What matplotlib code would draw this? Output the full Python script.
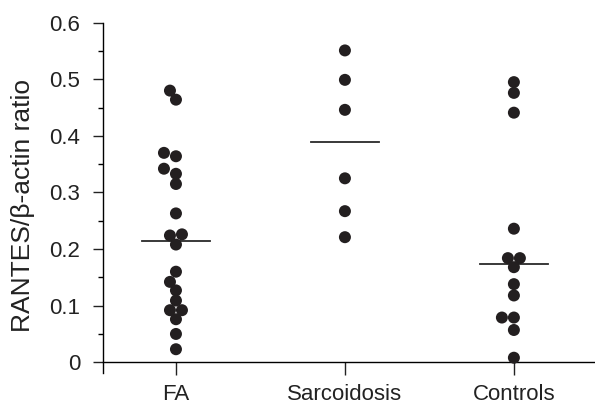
import matplotlib
matplotlib.use("Agg")
import matplotlib.pyplot as plt
import numpy as np
from matplotlib.ticker import MultipleLocator

plt.rcParams['font.family'] = ['Liberation Sans', 'DejaVu Sans']

categories = ["FA", "Sarcoidosis", "Controls"]
fa_values = [0.480, 0.464, 0.370, 0.364, 0.342, 0.333, 0.315, 0.263, 0.226, 0.224,
             0.208, 0.160, 0.142, 0.127, 0.109, 0.092, 0.092, 0.076, 0.050, 0.023]
sarc_values = [0.551, 0.499, 0.446, 0.325, 0.267, 0.221]
ctrl_values = [0.495, 0.476, 0.441, 0.236, 0.184, 0.184, 0.168, 0.138, 0.118,
               0.079, 0.079, 0.057, 0.008]
medians = [0.215, 0.390, 0.174]
series = [fa_values, sarc_values, ctrl_values]

W, H = 595, 405
fig = plt.figure(figsize=(W / 100, H / 100), dpi=100)
ax_left, ax_right, ax_top, ax_bot = 103.3, 595, 22.7, 373
ax = fig.add_axes([ax_left / W, 1 - ax_bot / H, (ax_right - ax_left) / W, (ax_bot - ax_top) / H])

xlim = (-0.43, 2.48)
ylim = (-0.019, 0.6)
ax.set_xlim(*xlim)
ax.set_ylim(*ylim)

px_per_x = (ax_right - ax_left) / (xlim[1] - xlim[0])
px_per_y = (ax_bot - ax_top) / (ylim[1] - ylim[0])

diam_px = 12.0
dot_color = "#231f20"

def swarm(vals):
    placed = []
    order = np.argsort(vals)
    res = [0.0] * len(vals)
    step = diam_px * 0.5
    for i in order:
        y = vals[i] * px_per_y
        cands = [0.0]
        for k in range(1, 8):
            cands += [-k * step, k * step]
        for c in cands:
            ok = True
            for (px, py) in placed:
                if (px - c) ** 2 + (py - y) ** 2 < (diam_px * 0.82) ** 2:
                    ok = False
                    break
            if ok:
                placed.append((c, y))
                res[i] = c / px_per_x
                break
    return res

for idx, vals in enumerate(series):
    offs = swarm(vals)
    xs = [idx + o for o in offs]
    ax.scatter(xs, vals, s=(diam_px * 0.72) ** 2, color=dot_color, edgecolors='none', zorder=3)
    ax.plot([idx - 0.2, idx + 0.2], [medians[idx], medians[idx]], color="#2a2a2a", lw=1.3, zorder=2)

for s in ["top", "right"]:
    ax.spines[s].set_visible(False)
ax.spines["bottom"].set_position(("data", 0))
ax.spines["bottom"].set_linewidth(1.0)
ax.spines["left"].set_linewidth(1.0)
ax.spines["left"].set_bounds(ylim[0], 0.6)

ax.set_xticks(range(len(categories)))
ax.set_xticklabels(categories)
ax.yaxis.set_minor_locator(MultipleLocator(0.05))
ax.set_yticks([0, 0.1, 0.2, 0.3, 0.4, 0.5, 0.6])
ax.set_yticklabels(["0", "0.1", "0.2", "0.3", "0.4", "0.5", "0.6"])

ax.tick_params(axis='x', direction='out', length=9, width=1.0, pad=7, labelsize=16, colors='#222222')
ax.tick_params(axis='y', which='major', direction='out', length=7.5, width=1.0, pad=9, labelsize=16, colors='#222222')
ax.tick_params(axis='y', which='minor', direction='out', length=3.8, width=1.0)

fig.text(23 / W, 1 - 205 / H, "RANTES/β-actin ratio", rotation=90, ha='center', va='center',
         fontsize=19, color='#222222')

fig.savefig("out.png", dpi=100)
